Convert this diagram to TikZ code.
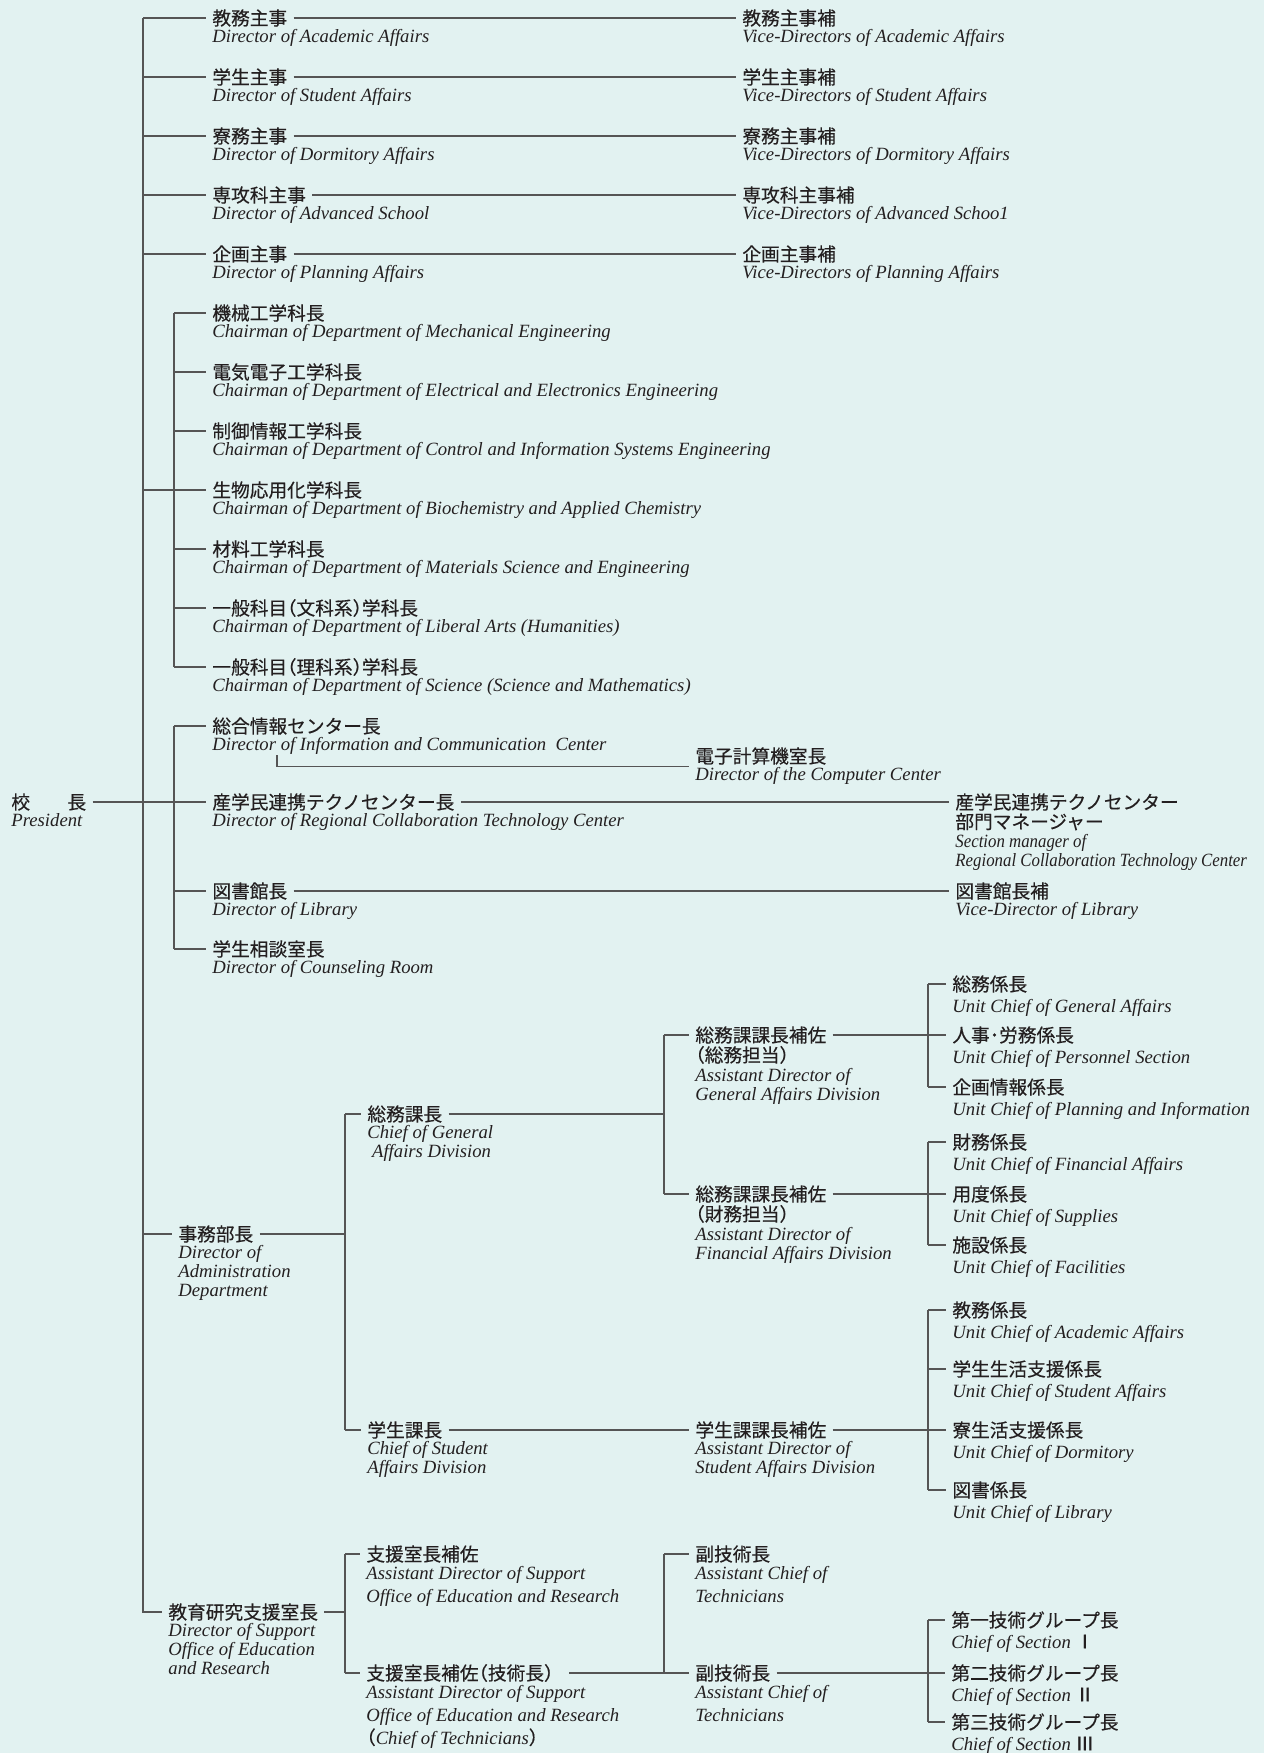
\documentclass[tikz,border=0pt]{standalone}
\usepackage{fontspec}
\setmainfont{Liberation Serif}
\newfontfamily\jpfont{Noto Sans CJK JP}[FakeBold=0.35]
\newfontfamily\ennarrow{Liberation Serif Italic}[FakeStretch=0.9]
\newcommand\lpar{{\upshape\jpfont\hspace{-.5em}（}}
\newcommand\rpar{{\upshape\jpfont）\hspace{-.5em}}}
\usetikzlibrary{positioning}
\definecolor{bgmint}{HTML}{E2F2F1}
\definecolor{linegray}{HTML}{555555}
\definecolor{inkdark}{HTML}{231F20}
\tikzset{
  jp/.style={font=\jpfont\fontsize{9.35}{11}\selectfont, anchor=west, inner xsep=3pt, inner ysep=0pt,
    text height=8.65pt, text depth=1.55pt, text=inkdark},
  en/.style={font=\itshape\fontsize{9.35}{9.5}\selectfont, anchor=north west, inner xsep=3pt, inner ysep=0pt,
    align=left, text=inkdark, execute at begin node=\strut},
  enwide/.style={en, font=\itshape\fontsize{9.35}{11.5}\selectfont, yshift=-0.6pt},
  link/.style={draw=linegray, line width=0.65pt},
}
\begin{document}
\begin{tikzpicture}[x=0.5pt,y=-0.5pt]
  \fill[bgmint] (0,0) rectangle (1264,1753);
  \useasboundingbox (0,0) rectangle (1264,1753);
  % columns of the brackets
  \coordinate (t) at (143,0);
  \coordinate (c1) at (174,0);
  \coordinate (c2) at (345,0);
  \coordinate (c3) at (664,0);
  \coordinate (c4) at (928,0);

  % president
  \node[jp] (pres) at (5,802) {校　　長};
  \node[en] (pres-e) at (pres.south west) {President};

  % directors and vice-directors
  \foreach \n/\y/\j/\e/\v/\w in {%
    kyomu/18/教務主事/Director of Academic Affairs/教務主事補/Vice-Directors of Academic Affairs,%
    gakusei/77/学生主事/Director of Student Affairs/学生主事補/Vice-Directors of Student Affairs,%
    ryomu/136/寮務主事/Director of Dormitory Affairs/寮務主事補/Vice-Directors of Dormitory Affairs,%
    senko/195/専攻科主事/Director of Advanced School/専攻科主事補/Vice-Directors of Advanced Schoo1,%
    kikaku/254/企画主事/Director of Planning Affairs/企画主事補/Vice-Directors of Planning Affairs}{
    \node[jp] (\n) at (206,\y) {\j};
    \node[en] (\n-e) at (\n.south west) {\e};
    \node[jp] (\n-v) at (736,\y) {\v};
    \node[en] (\n-ve) at (\n-v.south west) {\w};
    \draw[link] (\n.west -| t) -- (\n.west) (\n.east) -- (\n-v.west);
  }

  % chairmen of departments
  \foreach \n/\y/\j/\e in {%
    kikai/313/機械工学科長/Chairman of Department of Mechanical Engineering,%
    denki/372/電気電子工学科長/Chairman of Department of Electrical and Electronics Engineering,%
    seigyo/431/制御情報工学科長/Chairman of Department of Control and Information Systems Engineering,%
    seibutsu/490/生物応用化学科長/Chairman of Department of Biochemistry and Applied Chemistry,%
    zairyo/549/材料工学科長/Chairman of Department of Materials Science and Engineering,%
    bunka/608/一般科目\lpar 文科系\rpar 学科長/Chairman of Department of Liberal Arts (Humanities),%
    rika/667/一般科目\lpar 理科系\rpar 学科長/Chairman of Department of Science (Science and Mathematics)}{
    \node[jp] (\n) at (206,\y) {\j};
    \node[en] (\n-e) at (\n.south west) {\e};
    \draw[link] (\n.west -| c1) -- (\n.west);
  }
  \draw[link] (kikai.west -| c1) -- (rika.west -| c1);
  \draw[link] (seibutsu.west -| t) -- (seibutsu.west -| c1);

  % centers and library
  \node[jp] (sogo) at (206,726) {総合情報センター長};
  \node[en] (sogo-e) at (sogo.south west) {Director of Information and Communication~ Center};
  \node[jp] (keisan) at (689,756) {電子計算機室長};
  \node[en] (keisan-e) at (keisan.south west) {Director of the Computer Center};
  \node[jp] (sangaku) at (206,802) {産学民連携テクノセンター長};
  \node[en] (sangaku-e) at (sangaku.south west) {Director of Regional Collaboration Technology Center};
  \node[jp] (sangaku-m) at (949,802) {産学民連携テクノセンター};
  \node[en] (sangaku-me) at (sangaku-m.south west) {{\upshape\jpfont 部門マネージャー}\\{\ennarrow\upshape Section manager of}\\{\ennarrow\upshape Regional Collaboration Technology Center}};
  \node[jp] (tosho) at (206,891) {図書館長};
  \node[en] (tosho-e) at (tosho.south west) {Director of Library};
  \node[jp] (tosho-v) at (949,891) {図書館長補};
  \node[en] (tosho-ve) at (tosho-v.south west) {Vice-Director of Library};
  \node[jp] (sodan) at (206,949) {学生相談室長};
  \node[en] (sodan-e) at (sodan.south west) {Director of Counseling Room};
  \coordinate (sogo-tap) at (277,755);

  \draw[link] (sogo.west -| c1) -- (sodan.west -| c1);
  \foreach \n in {sogo,tosho,sodan} \draw[link] (\n.west -| c1) -- (\n.west);
  \draw[link] (pres.east) -- (sangaku.west);
  \draw[link] (sangaku.east) -- (sangaku-m.west);
  \draw[link] (tosho.east) -- (tosho-v.west);
  \draw[link] (sogo-tap) |- (keisan.south west);

  % administration department
  \node[jp] (jimu) at (172,1234) {事務部長};
  \node[en] (jimu-e) at (jimu.south west) {Director of\\Administration\\Department};
  \node[jp] (soumu) at (361,1114) {総務課長};
  \node[en] (soumu-e) at (soumu.south west) {Chief of General\\\ Affairs Division};
  \node[jp] (gakuka) at (361,1430) {学生課長};
  \node[en] (gakuka-e) at (gakuka.south west) {Chief of Student\\Affairs Division};
  \node[jp] (hosa1) at (689,1035) {総務課課長補佐};
  \node[en] (hosa1-e) at (hosa1.south west) {\lpar{\upshape\jpfont 総務担当}\rpar\\Assistant Director of\\General Affairs Division};
  \node[jp] (hosa2) at (689,1194) {総務課課長補佐};
  \node[en] (hosa2-e) at (hosa2.south west) {\lpar{\upshape\jpfont 財務担当}\rpar\\Assistant Director of\\Financial Affairs Division};
  \node[jp] (gakuhosa) at (689,1430) {学生課課長補佐};
  \node[en] (gakuhosa-e) at (gakuhosa.south west) {Assistant Director of\\Student Affairs Division};

  \foreach \n/\y/\j/\e in {%
    soumukakari/984/総務係長/Unit Chief of General Affairs,%
    jinji/1035/人事･労務係長/Unit Chief of Personnel Section,%
    kikakukakari/1087/企画情報係長/Unit Chief of Planning and Information,%
    zaimu/1142/財務係長/Unit Chief of Financial Affairs,%
    yodo/1194/用度係長/Unit Chief of Supplies,%
    shisetsu/1245/施設係長/Unit Chief of Facilities,%
    kyomukakari/1310/教務係長/Unit Chief of Academic Affairs,%
    seikatsu/1369/学生生活支援係長/Unit Chief of Student Affairs,%
    ryoseikatsu/1430/寮生活支援係長/Unit Chief of Dormitory,%
    toshokakari/1490/図書係長/Unit Chief of Library}{
    \node[jp] (\n) at (946,\y) {\j};
    \node[enwide] (\n-e) at (\n.south west) {\e};
  }

  \draw[link] (jimu.west -| t) -- (jimu.west);
  \draw[link] (jimu.east) -- (jimu.east -| c2);
  \draw[link] (soumu.west -| c2) -- (gakuka.west -| c2);
  \foreach \n in {soumu,gakuka} \draw[link] (\n.west -| c2) -- (\n.west);
  \draw[link] (soumu.east) -- (soumu.east -| c3);
  \draw[link] (hosa1.west -| c3) -- (hosa2.west -| c3);
  \foreach \n in {hosa1,hosa2} \draw[link] (\n.west -| c3) -- (\n.west);
  \draw[link] (gakuka.east) -- (gakuhosa.west);
  \draw[link] (hosa1.east) -- (jinji.west);
  \draw[link] (hosa2.east) -- (yodo.west);
  \draw[link] (gakuhosa.east) -- (ryoseikatsu.west);
  \draw[link] (soumukakari.west -| c4) -- (kikakukakari.west -| c4);
  \draw[link] (zaimu.west -| c4) -- (shisetsu.west -| c4);
  \draw[link] (kyomukakari.west -| c4) -- (toshokakari.west -| c4);
  \foreach \n in {soumukakari,kikakukakari,zaimu,shisetsu,kyomukakari,seikatsu,toshokakari}
    \draw[link] (\n.west -| c4) -- (\n.west);

  % support office of education and research
  \node[jp] (kyoiku) at (162,1612) {教育研究支援室長};
  \node[en] (kyoiku-e) at (kyoiku.south west) {Director of Support\\Office of Education\\and Research};
  \node[jp] (shien1) at (360,1554) {支援室長補佐};
  \node[enwide] (shien1-e) at (shien1.south west) {Assistant Director of Support\\Office of Education and Research};
  \node[jp] (shien2) at (360,1673) {支援室長補佐\lpar 技術長\rpar};
  \node[enwide] (shien2-e) at (shien2.south west) {Assistant Director of Support\\Office of Education and Research\\\lpar Chief of Technicians\rpar};
  \node[jp] (fuku1) at (689,1554) {副技術長};
  \node[enwide] (fuku1-e) at (fuku1.south west) {Assistant Chief of\\Technicians};
  \node[jp] (fuku2) at (689,1673) {副技術長};
  \node[enwide] (fuku2-e) at (fuku2.south west) {Assistant Chief of\\Technicians};
  \foreach \n/\y/\j/\e in {%
    group1/1620/第一技術グループ長/Ⅰ,%
    group2/1673/第二技術グループ長/Ⅱ,%
    group3/1722/第三技術グループ長/Ⅲ}{
    \node[jp] (\n) at (945,\y) {\j};
    \node[enwide] (\n-e) at (\n.south west) {Chief of Section {\upshape\jpfont\e}};
  }

  \draw[link] (kyomu.west -| t) -- (kyoiku.west -| t) -- (kyoiku.west);
  \draw[link] (kyoiku.east) -- (kyoiku.east -| c2);
  \draw[link] (shien1.west -| c2) -- (shien2.west -| c2);
  \foreach \n in {shien1,shien2} \draw[link] (\n.west -| c2) -- (\n.west);
  \draw[link] (shien2.east) -- (shien2.east -| c3);
  \draw[link] (fuku1.west -| c3) -- (fuku2.west -| c3);
  \foreach \n in {fuku1,fuku2} \draw[link] (\n.west -| c3) -- (\n.west);
  \draw[link] (fuku2.east) -- (group2.west);
  \draw[link] (group1.west -| c4) -- (group3.west -| c4);
  \foreach \n in {group1,group3} \draw[link] (\n.west -| c4) -- (\n.west);
\end{tikzpicture}
\end{document}
